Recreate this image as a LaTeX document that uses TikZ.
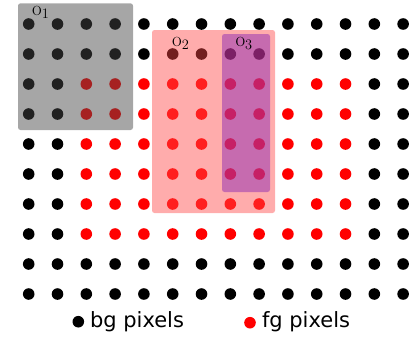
\documentclass[tikz,border=0pt]{standalone}
\usepackage{fontspec}
\newfontfamily\legendfont{DejaVu Sans}
\definecolor{greybox}{RGB}{70,70,70}
\definecolor{pinkbox}{RGB}{255,70,70}
\definecolor{purplebox}{RGB}{135,35,180}
\begin{document}
\begin{tikzpicture}[x=1pt,y=-1pt,
  pixdot/.style={circle,inner sep=0pt,minimum size=11.6pt,fill=#1},
  region/.style={rounded corners=2.5pt},
  olabel/.style={inner sep=0pt,anchor=base west,font=\fontsize{21}{24}\selectfont},
  legendtext/.style={inner sep=0pt,anchor=base west,font=\legendfont\fontsize{21}{24}\selectfont}]
\useasboundingbox (0,0) rectangle (411,338);
\foreach \r in {0,...,9}{
  \foreach \c in {0,...,13}{
    \def\dotcol{black}
    \ifnum\r>1 \ifnum\r<8 \ifnum\c>1 \ifnum\c<12 \def\dotcol{red}\fi\fi\fi\fi
    \node[pixdot=\dotcol] (p-\r-\c) at ({28.7+28.8*\c},{24+30*\r}) {};
  }
}
\fill[greybox, fill opacity=0.48, region] (18,3.3) rectangle (133,130);
\fill[pinkbox, fill opacity=0.45, region] (152,30) rectangle (275,213);
\fill[purplebox, fill opacity=0.47, region] (222,34) rectangle (270,192);
\node[olabel] (o1) at (32,15.7) {o$_1$};
\node[olabel] (o2) at (172,46) {o$_2$};
\node[olabel] (o3) at (235.3,46.7) {o$_3$};
\node[pixdot=black] (bgkey) at (78.3,321.7) {};
\node[legendtext] (bglabel) at (89.8,327) {bg pixels};
\node[pixdot=red] (fgkey) at (250,322.7) {};
\node[legendtext] (fglabel) at (261.8,327) {fg pixels};
\end{tikzpicture}
\end{document}
